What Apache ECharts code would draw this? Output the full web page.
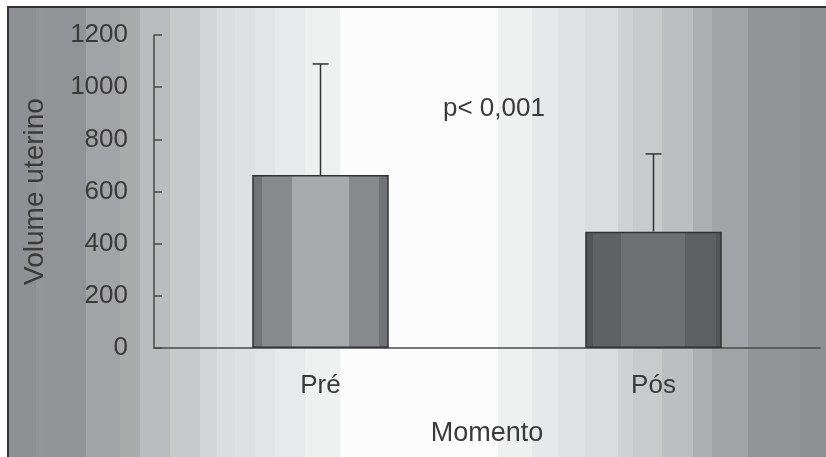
<!DOCTYPE html>
<html>
<head>
<meta charset="utf-8">
<script src="https://cdn.jsdelivr.net/npm/echarts@6/dist/echarts.min.js"></script>
<style>
  html, body { margin: 0; padding: 0; background: #ffffff; }
  #wrap { position: relative; width: 826px; height: 457px; overflow: hidden; background: #ffffff; }
  #frame { position: absolute; left: 7px; top: 6px; width: 819px; height: 451px;
           box-sizing: border-box; border-top: 2px solid #333; border-left: 2px solid #333; }
  #chart { position: absolute; left: 0; top: 0; width: 826px; height: 457px; }
</style>
</head>
<body>
<div id="wrap">
  <div id="frame"></div>
  <div id="chart"></div>
</div>
<script>
// ---- data ----
const categories = ['Pré', 'Pós'];
const means = [663, 446];
const sds = [426, 298];
const yTicks = [0, 200, 400, 600, 800, 1000, 1200];
const yAxisName = 'Volume uterino';
const xAxisName = 'Momento';
const annotation = 'p< 0,001';

// ---- decorative stepped background (page x, colour) ----
const bgStops = [
  [7, '#8f9094'], [36, '#959699'], [44, '#929397'], [86, '#a2a3a6'], [120, '#aaabad'],
  [140, '#bbbcbf'], [170, '#c8c9cb'], [200, '#d3d4d6'], [217, '#dcdddf'], [235, '#dfe0e2'],
  [255, '#e3e4e6'], [275, '#e8e9ea'], [305, '#eff0f0'], [340, '#fcfcfc'], [498, '#eff0f0'],
  [532, '#e7e8e9'], [558, '#e0e1e2'], [585, '#dcdddf'], [618, '#d0d1d3'], [633, '#c9cacc'],
  [662, '#bdbec1'], [693, '#aeafb2'], [712, '#a2a3a6'], [748, '#939498'], [800, '#8f9094'], [826, null]
];
(function () {
  const parts = [];
  for (let i = 0; i < bgStops.length - 1; i++) {
    const a = bgStops[i][0] - 7, b = bgStops[i + 1][0] - 7, c = bgStops[i][1];
    parts.push(c + ' ' + a + 'px', c + ' ' + b + 'px');
  }
  const f = document.getElementById('frame');
  f.style.backgroundImage = 'linear-gradient(to right, ' + parts.join(', ') + ')';
  f.style.backgroundOrigin = 'border-box';
})();

function stripes(cols) {
  const stops = [];
  cols.forEach(function (c) {
    stops.push({ offset: c[0], color: c[2] });
    stops.push({ offset: c[1], color: c[2] });
  });
  return new echarts.graphic.LinearGradient(0, 0, 1, 0, stops);
}
const barFills = [
  stripes([[0, 0.07, '#727376'], [0.07, 0.29, '#88898c'], [0.29, 0.71, '#a9aaad'], [0.71, 0.93, '#88898c'], [0.93, 1, '#727376']]),
  stripes([[0, 0.06, '#535457'], [0.06, 0.26, '#606164'], [0.26, 0.73, '#6e6f72'], [0.73, 0.96, '#5e5f62'], [0.96, 1, '#535457']])
];

const FONT = '"Liberation Sans", Arial, sans-serif';
const TXT = '#3a3a3a';

const chart = echarts.init(document.getElementById('chart'), null, { renderer: 'canvas' });
chart.setOption({
  backgroundColor: 'transparent',
  animation: false,
  grid: { left: 154, right: 6, top: 35, bottom: 109, containLabel: false },
  xAxis: {
    type: 'category',
    data: categories,
    name: xAxisName,
    nameLocation: 'middle',
    nameGap: 72,
    nameTextStyle: { fontFamily: FONT, fontSize: 27, color: TXT },
    axisLine: { lineStyle: { color: '#4a4a4a', width: 1.5 } },
    axisTick: { show: false },
    axisLabel: { fontFamily: FONT, fontSize: 26, color: TXT, margin: 25 }
  },
  yAxis: {
    type: 'value',
    min: yTicks[0],
    max: yTicks[yTicks.length - 1],
    interval: 200,
    name: yAxisName,
    nameLocation: 'middle',
    nameGap: 105,
    nameRotate: 90,
    nameTextStyle: { fontFamily: FONT, fontSize: 28, color: TXT },
    axisLine: { show: true, lineStyle: { color: '#4a4a4a', width: 1.5 } },
    axisTick: { show: true, inside: true, length: 8, lineStyle: { color: '#4a4a4a', width: 1.5 } },
    axisLabel: { fontFamily: FONT, fontSize: 26, color: TXT, margin: 26, formatter: function (v) { return String(v); } },
    splitLine: { show: false }
  },
  graphic: [{
    type: 'text',
    left: 443,
    top: 96,
    style: { text: annotation, font: '26px ' + FONT, fill: TXT }
  }],
  series: [
    {
      type: 'bar',
      barWidth: '41%',
      data: means.map(function (v, i) {
        return { value: v, itemStyle: { color: barFills[i], borderColor: '#333', borderWidth: 1.5 } };
      }),
      z: 2
    },
    {
      type: 'custom',
      z: 3,
      data: means.map(function (v, i) { return [i, v, sds[i]]; }),
      renderItem: function (params, api) {
        const x = api.value(0);
        const base = api.coord([x, api.value(1)]);
        const top = api.coord([x, api.value(1) + api.value(2)]);
        const st = { stroke: '#333', lineWidth: 1.5 };
        return {
          type: 'group',
          children: [
            { type: 'line', shape: { x1: base[0], y1: base[1], x2: top[0], y2: top[1] }, style: st },
            { type: 'line', shape: { x1: top[0] - 8, y1: top[1], x2: top[0] + 8, y2: top[1] }, style: st }
          ]
        };
      }
    }
  ]
});
</script>
</body>
</html>
